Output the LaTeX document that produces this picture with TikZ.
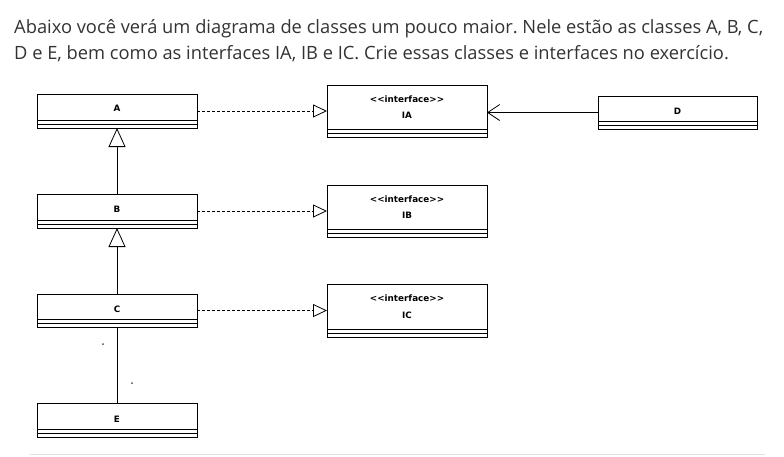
\documentclass[tikz,border=0pt]{standalone}
\usepackage{fontspec}
\setmainfont{Open Sans}
\newfontfamily\umlfont{DejaVu Sans}
\usetikzlibrary{arrows.meta}
\definecolor{txt}{HTML}{333333}
\frenchspacing
\newcommand\compartments[1]{%
  \draw[line width=0.9pt] ([yshift=4pt]#1.south west) -- ([yshift=4pt]#1.south east);
  \draw[line width=0.9pt] ([yshift=8pt]#1.south west) -- ([yshift=8pt]#1.south east);}
\begin{document}
\begin{tikzpicture}[x=1pt,y=-1pt,
  cls/.style={draw=black, line width=0.9pt, minimum width=160pt, inner sep=0pt, outer sep=0pt},
  lbl/.style={font=\umlfont\bfseries\fontsize{8.8}{10}\selectfont, inner sep=0pt, anchor=base},
  para/.style={font=\fontsize{18.3}{25.6}\selectfont, text=txt, inner sep=0pt, anchor=base west},
  real/.style={dash pattern=on 3pt off 2pt, line width=0.8pt, -{Triangle[open,length=14pt,width=13pt,line width=0.8pt]}},
  gen/.style={line width=0.8pt, -{Triangle[open,length=19pt,width=17pt,line width=0.8pt]}},
  assoc/.style={line width=0.8pt, -{Straight Barb[length=12pt,width=16pt,line width=0.8pt]}}
]
\useasboundingbox (0,0) rectangle (784,456);
\fill[white] (0,0) rectangle (784,456);
\node[para] (t1) at (14,33.7) {Abaixo você verá um diagrama de classes um pouco maior. Nele estão as classes A, B, C,};
\node[para] (t2) at (14,59.3) {D e E, bem como as interfaces IA, IB e IC. Crie essas classes e interfaces no exercício.};
% classes
\node[cls, minimum height=34pt] (A) at (117,111) {};
\node[cls, minimum height=34pt] (B) at (117,211) {};
\node[cls, minimum height=33pt] (C) at (117,310.5) {};
\node[cls, minimum height=34pt] (E) at (117,420) {};
\node[cls, minimum height=33pt, minimum width=159pt] (D) at (677.5,112.5) {};
\node[cls, minimum height=52pt] (IA) at (407,111) {};
\node[cls, minimum height=52pt] (IB) at (407,211) {};
\node[cls, minimum height=53pt] (IC) at (407,310.5) {};
\compartments{A}\compartments{B}\compartments{C}\compartments{E}\compartments{D}
\compartments{IA}\compartments{IB}\compartments{IC}
% labels
\node[lbl] (lA) at (117,111) {A};
\node[lbl] (lB) at (117,212) {B};
\node[lbl] (lC) at (117,312) {C};
\node[lbl] (lE) at (117,422.5) {E};
\node[lbl] (lD) at (677.5,114.3) {D};
\node[lbl] (sIA) at (407,102) {<<interface>>};
\node[lbl] (nIA) at (407,118.5) {IA};
\node[lbl] (sIB) at (407,202) {<<interface>>};
\node[lbl] (nIB) at (407,218.5) {IB};
\node[lbl] (sIC) at (407,301.5) {<<interface>>};
\node[lbl] (nIC) at (407,318) {IC};
% connectors
\draw[gen] (B.north) -- (A.south);
\draw[gen] (C.north) -- (B.south);
\draw[line width=0.8pt] (C.south) -- (E.north);
\draw[real] (A.east) -- (IA.west);
\draw[real] (B.east) -- (IB.west);
\draw[real] (C.east) -- (IC.west);
\draw[assoc] (D.west) -- (D.west -| IA.east);
% stray dots
\fill[black!70] (103,344) circle (1pt);
\fill[black!70] (132,383) circle (1pt);
% bottom rule
\draw[black!12, line width=1pt] (30,454) -- (765,454);
\end{tikzpicture}
\end{document}
